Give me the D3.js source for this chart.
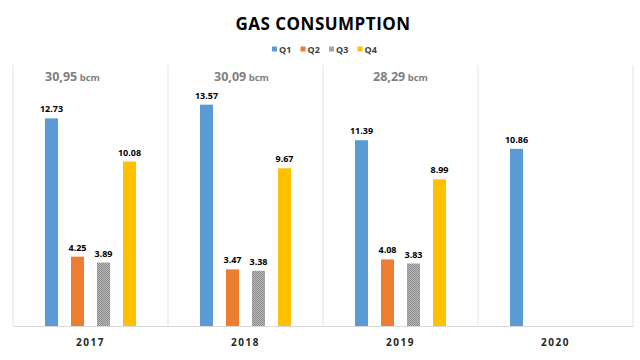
<!DOCTYPE html>
<html>
<head>
<meta charset="utf-8">
<script src="https://cdn.jsdelivr.net/npm/d3@7"></script>
<style>
  html, body { margin: 0; padding: 0; background: #fff; }
  svg { display: block; font-family: "Open Sans", "DejaVu Sans", sans-serif; }
</style>
</head>
<body>
<svg id="chart" width="640" height="360"></svg>
<script>
const years = ['2017', '2018', '2019', '2020'];
const quarters = ['Q1', 'Q2', 'Q3', 'Q4'];
const q1 = [12.73, 13.57, 11.39, 10.86];
const q2 = [4.25, 3.47, 4.08, null];
const q3 = [3.89, 3.38, 3.83, null];
const q4 = [10.08, 9.67, 8.99, null];
const totals = ['30,95', '30,09', '28,29', null];

const colors = { Q1: '#5b9bd5', Q2: '#ed7d31', Q3: '#a5a5a5', Q4: '#ffc000' };
const series = { Q1: q1, Q2: q2, Q3: q3, Q4: q4 };
// total labels were nudged by hand in the original
const totalShift = [-18, -4, 0, 0];

const W = 640, H = 360;
const m = { top: 65, right: 7, bottom: 34, left: 13 };
const svg = d3.select('#chart');

// hatch for Q3
const defs = svg.append('defs');
const pat = defs.append('pattern').attr('id', 'hatch')
  .attr('width', 2).attr('height', 2).attr('patternUnits', 'userSpaceOnUse');
pat.append('rect').attr('width', 2).attr('height', 2).attr('fill', '#b8b8b8');
pat.append('rect').attr('width', 1).attr('height', 1).attr('fill', '#8c8c8c');
pat.append('rect').attr('x', 1).attr('y', 1).attr('width', 1).attr('height', 1).attr('fill', '#8c8c8c');

const x = d3.scaleBand().domain(years).range([m.left, W - m.right]);
const xq = d3.scaleBand().domain(quarters).range([0, 104]).paddingInner(0.5).paddingOuter(0.25);
const y = d3.scaleLinear().domain([0, 16]).range([H - m.bottom, m.top]);
const groupOff = (x.bandwidth() - 104) / 2;

// vertical separators
const seps = years.map(d => x(d)).concat([x(years[years.length - 1]) + x.bandwidth()]);
svg.append('g').selectAll('line').data(seps).join('line')
  .attr('x1', d => d).attr('x2', d => d)
  .attr('y1', m.top).attr('y2', H - m.bottom)
  .attr('stroke', '#e3e3e3').attr('stroke-width', 1);

// axis
const xAxis = svg.append('g')
  .attr('transform', `translate(0,${H - m.bottom})`)
  .call(d3.axisBottom(x).tickSize(0).tickPadding(13));
xAxis.select('.domain').attr('stroke', '#d9d9d9');
xAxis.selectAll('text')
  .attr('font-size', 10).attr('font-weight', 'bold').attr('fill', '#262626')
  .attr('letter-spacing', 1.5).attr('font-family', '"Open Sans", sans-serif');

// bars
const bars = [];
years.forEach((yr, i) => quarters.forEach(q => {
  if (series[q][i] != null) bars.push({ yr, q, v: series[q][i] });
}));

const g = svg.append('g');
g.selectAll('rect').data(bars).join('rect')
  .attr('x', d => x(d.yr) + groupOff + xq(d.q))
  .attr('y', d => y(d.v))
  .attr('width', xq.bandwidth())
  .attr('height', d => y(0) - y(d.v))
  .attr('fill', d => d.q === 'Q3' ? 'url(#hatch)' : colors[d.q]);

g.selectAll('text').data(bars).join('text')
  .attr('x', d => x(d.yr) + groupOff + xq(d.q) + xq.bandwidth() / 2)
  .attr('y', d => y(d.v) - 6)
  .attr('text-anchor', 'middle')
  .attr('font-size', 9).attr('font-weight', 'bold').attr('fill', '#000')
  .text(d => d.v.toFixed(2));

// yearly totals
const tot = svg.append('g').selectAll('text')
  .data(years.map((yr, i) => ({ yr, t: totals[i], s: totalShift[i] })).filter(d => d.t))
  .join('text')
  .attr('x', d => x(d.yr) + x.bandwidth() / 2 + d.s)
  .attr('y', 81)
  .attr('text-anchor', 'middle')
  .attr('fill', '#7f7f7f').attr('font-weight', 'bold');
tot.append('tspan').attr('font-size', 12.5).text(d => d.t);
tot.append('tspan').attr('font-size', 9.5).text(' bcm');

// title
svg.append('text')
  .attr('x', 323).attr('y', 30)
  .attr('text-anchor', 'middle')
  .attr('font-size', 17).attr('font-weight', 'bold').attr('fill', '#000')
  .attr('letter-spacing', 0.5)
  .text('GAS CONSUMPTION');

// legend
const leg = svg.append('g').attr('transform', 'translate(272,50)');
const li = leg.selectAll('g').data(quarters).join('g')
  .attr('transform', (d, i) => `translate(${i * 28.5},0)`);
li.append('rect').attr('x', 0).attr('y', -3.5).attr('width', 5).attr('height', 5)
  .attr('fill', d => colors[d]);
li.append('text').attr('x', 7).attr('y', 3)
  .attr('font-size', 9).attr('font-weight', 'bold').attr('fill', '#404040')
  .text(d => d);
</script>
</body>
</html>
